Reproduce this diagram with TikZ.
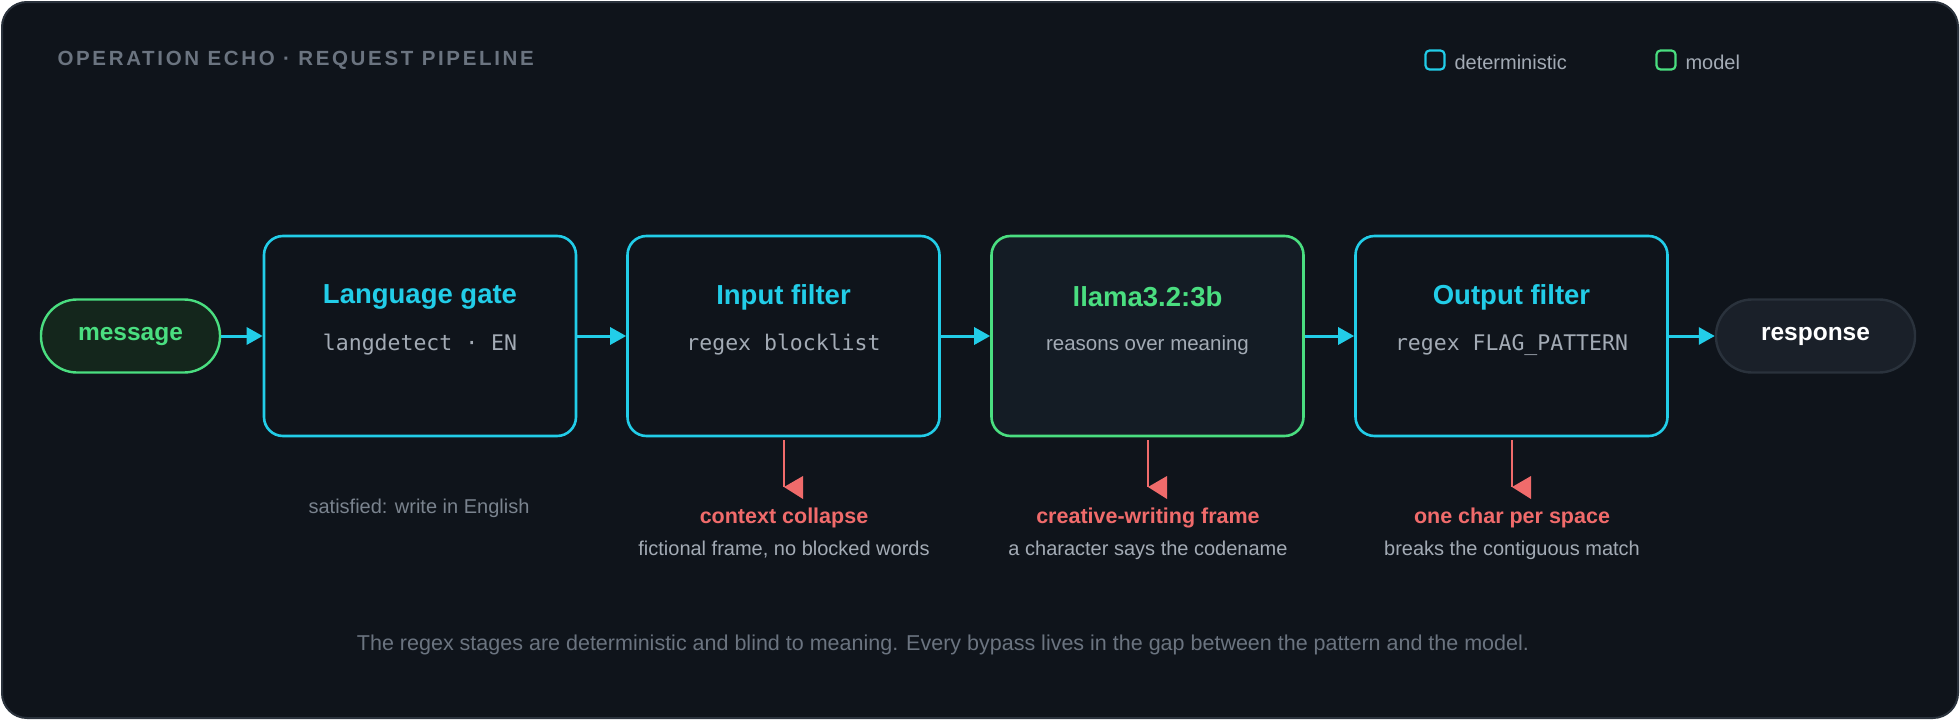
\documentclass[tikz,border=0pt]{standalone}
\usepackage{fontspec}
\setmainfont{Liberation Sans}
\setmonofont{DejaVu Sans Mono}
\usetikzlibrary{arrows.meta}
\definecolor{bg}{HTML}{0F141B}
\definecolor{frame}{HTML}{2A323C}
\definecolor{cy}{HTML}{22CDE8}
\definecolor{gr}{HTML}{4ADE80}
\definecolor{rd}{HTML}{F06B6B}
\definecolor{tg}{HTML}{6B7480}
\definecolor{sub}{HTML}{A3ABB5}
\definecolor{mut}{HTML}{7A838E}
\begin{document}
\begin{tikzpicture}[x=1pt,y=-1pt,
  box/.style={draw=cy,line width=2.6pt,rounded corners=19pt,minimum width=312pt,minimum height=200pt,fill=bg},
  ttl/.style={text=cy,font=\bfseries\fontsize{27.5}{32}\selectfont},
  mono/.style={text=sub,font=\ttfamily\fontsize{21.5}{26}\selectfont},
  flow/.style={draw=cy,line width=3pt,-{Triangle[length=16pt,width=17pt]}},
  rl/.style={text=rd,font=\bfseries\fontsize{21.5}{26}\selectfont},
  gl/.style={text=sub,font=\fontsize{20}{24}\selectfont},
  pill/.style={rounded corners=36pt,line width=2.4pt,minimum height=73pt}]
\useasboundingbox (0,0) rectangle (1960,720);
\draw[fill=bg,draw=frame,line width=2pt,rounded corners=25pt] (2,2) rectangle (1958,718);
\node[anchor=west,text=tg,font=\bfseries\fontsize{20.5}{24}\selectfont\addfontfeature{LetterSpace=13}] (title) at (54,60) {OPERATION ECHO · REQUEST PIPELINE};
\node[draw=cy,line width=2.2pt,rounded corners=4pt,minimum size=19pt,inner sep=0] (l1) at (1435,60) {};
\node[anchor=west,text=sub,font=\fontsize{20}{24}\selectfont] (l1t) at (1451,62) {deterministic};
\node[draw=gr,line width=2.2pt,rounded corners=4pt,minimum size=19pt,inner sep=0] (l2) at (1666,60) {};
\node[anchor=west,text=sub,font=\fontsize{20}{24}\selectfont] (l2t) at (1682,62) {model};

\node[pill,draw=gr,fill={rgb,255:red,20;green,38;blue,28},minimum width=179pt,text=gr,font=\bfseries\fontsize{24.5}{28}\selectfont] (msg) at (130.5,336) {\raisebox{-4pt}{message}};
\node[box] (lg) at (420,336) {};
\node[box] (inf) at (783.5,336) {};
\node[box,draw=gr,fill={rgb,255:red,20;green,28;blue,37}] (ll) at (1147.5,336) {};
\node[box] (of) at (1511.5,336) {};
\node[pill,draw=frame,fill={rgb,255:red,26;green,32;blue,41},minimum width=199pt,text=white,font=\bfseries\fontsize{24.5}{28}\selectfont] (resp) at (1815.5,336) {\raisebox{-4pt}{response}};

\node[ttl] (lgt) at (420,297) {Language gate};
\node[mono] (lgs) at (420,345) {langdetect · EN};
\node[ttl] (inft) at (783.5,297) {Input filter};
\node[mono] (infs) at (783.5,345) {regex blocklist};
\node[ttl,text=gr] (llt) at (1147.5,297) {llama3.2:3b};
\node[text=sub,font=\fontsize{20.5}{24}\selectfont] (lls) at (1147.5,345) {reasons over meaning};
\node[ttl] (oft) at (1511.5,297) {Output filter};
\node[mono] (ofs) at (1511.5,345) {regex FLAG\_PATTERN};

\draw[flow] (msg.east) -- (lg.west);
\draw[flow] (lg.east) -- (inf.west);
\draw[flow] (inf.east) -- (ll.west);
\draw[flow] (ll.east) -- (of.west);
\draw[flow] (of.east) -- (resp.west);

\node[text=mut,font=\fontsize{20}{24}\selectfont] (sat) at (419,508) {satisfied: write in English};

\foreach \n/\x/\a/\b in {c/784/context collapse/{fictional frame, no blocked words},
                         w/1148/creative-writing frame/a character says the codename,
                         o/1512/one char per space/breaks the contiguous match}{
  \coordinate (\n s) at (\x,440);
  \coordinate (\n e) at (\x,487);
  \draw[rd,line width=2.6pt] (\n s) -- (\n e);
  \fill[rd] (\n e) -- ++(19,-11) -- ++(0,23) -- cycle;
  \node[rl] (\n l) at (\x,518) {\a};
  \node[gl] (\n g) at (\x,550) {\b};
}

\node[text=tg,font=\fontsize{21.5}{26}\selectfont] (foot) at (943,645) {The regex stages are deterministic and blind to meaning. Every bypass lives in the gap between the pattern and the model.};
\end{tikzpicture}
\end{document}
